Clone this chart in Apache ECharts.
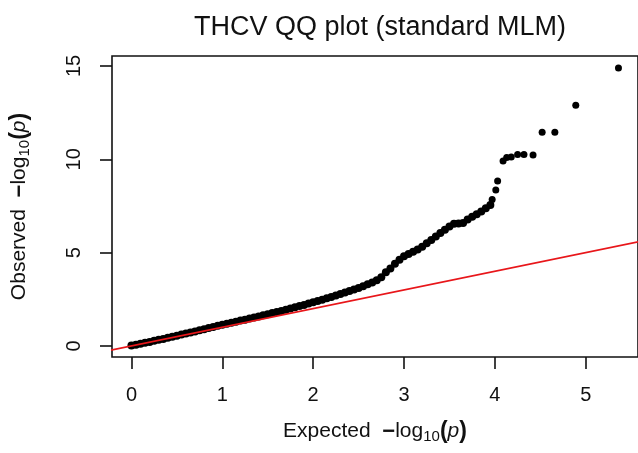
<!DOCTYPE html>
<html>
<head>
<meta charset="utf-8">
<script src="https://cdn.jsdelivr.net/npm/echarts@6/dist/echarts.min.js"></script>
<style>html,body{margin:0;padding:0;background:#fff;}#c{width:638px;height:453px;}</style>
</head>
<body>
<div id="c"></div>
<script>
// Expected -log10(p) values (dense part of the QQ curve)
var expectedMain = [0.00,0.05,0.10,0.15,0.20,0.25,0.30,0.35,0.40,0.45,0.50,0.55,0.60,0.65,0.70,0.75,0.80,0.85,0.90,0.95,
  1.00,1.05,1.10,1.15,1.20,1.25,1.30,1.35,1.40,1.45,1.50,1.55,1.60,1.65,1.70,1.75,1.80,1.85,1.90,1.95,
  2.00,2.05,2.10,2.15,2.20,2.25,2.30,2.35,2.40,2.45,2.50,2.55,2.60,2.65,2.70,2.75,2.80,2.85,2.90,2.95,
  3.00,3.05,3.10,3.15,3.20,3.25,3.30,3.35,3.40,3.45,3.50,3.55,3.60,3.65,3.70,3.75,3.80,3.85,3.90,3.95];
// Observed -log10(p) values
var observedMain = [0.02,0.07,0.12,0.17,0.22,0.28,0.33,0.38,0.44,0.49,0.55,0.61,0.67,0.72,0.78,0.84,0.90,0.96,1.02,1.08,
  1.14,1.19,1.25,1.30,1.36,1.41,1.47,1.53,1.58,1.64,1.70,1.76,1.82,1.88,1.94,2.01,2.07,2.14,2.20,2.27,
  2.34,2.41,2.48,2.55,2.62,2.70,2.78,2.86,2.94,3.02,3.11,3.20,3.30,3.40,3.52,3.68,3.95,4.15,4.40,4.62,
  4.80,4.92,5.05,5.17,5.32,5.50,5.68,5.87,6.05,6.22,6.40,6.55,6.56,6.58,6.78,6.92,7.05,7.20,7.38,7.55];
// Sparse tail
var expectedTail = [3.97,4.01,4.03,4.09,4.13,4.18,4.25,4.32,4.42,4.52,4.66,4.89,5.36];
var observedTail = [7.84,8.36,8.84,9.91,10.10,10.12,10.25,10.25,10.23,11.45,11.45,12.89,14.89];
// Reference line y = x
var refLineX = [-1, 6];
var xTicks = [0,1,2,3,4,5];
var yTicks = [0,5,10,15];
var titleText = 'THCV QQ plot (standard MLM)';

function zip(a, b){ var r = []; for (var k = 0; k < a.length; k++) r.push([a[k], b[k]]); return r; }
var ptsMain = zip(expectedMain, observedMain);
var ptsTail = zip(expectedTail, observedTail);
var ref = refLineX.map(function(v){ return [v, v]; });

var font = '"Liberation Sans", Arial, sans-serif';
var rich = {
  t: {fontSize: 21, fontFamily: font, color: '#111'},
  m: {fontSize: 22, fontFamily: font, color: '#111', fontWeight: 'bold'},
  s: {fontSize: 15, fontFamily: font, color: '#111', padding: [10,0,0,0]},
  b: {fontSize: 23, fontFamily: font, color: '#111', fontWeight: 'bold'},
  i: {fontSize: 21, fontFamily: font, color: '#111', fontStyle: 'italic'}
};
var nameTpl = '{m|−}{t|log}{s|10}{b|(}{i|p}{b|)}';

var chart = echarts.init(document.getElementById('c'), null, {renderer: 'canvas'});
chart.setOption({
  animation: false,
  backgroundColor: '#fff',
  title: {
    text: titleText, left: 375, top: 9, textAlign: 'center',
    textStyle: {fontFamily: font, fontSize: 27, fontWeight: 'normal', color: '#111'}
  },
  grid: {left: 112, right: -3, top: 56, bottom: 96, show: true, borderColor: '#111', borderWidth: 1.6, containLabel: false},
  xAxis: {
    type: 'value', min: -0.214, max: 5.575,
    splitLine: {show: false},
    axisLine: {show: false, onZero: false},
    axisTick: {show: true, length: 12, lineStyle: {color: '#111', width: 1.6}, customValues: xTicks},
    axisLabel: {customValues: xTicks, fontFamily: font, fontSize: 20, color: '#111', margin: 28},
    name: '{t|Expected  }' + nameTpl,
    nameLocation: 'middle', nameGap: 62,
    nameTextStyle: {rich: rich}
  },
  yAxis: {
    type: 'value', min: -0.59, max: 15.53,
    splitLine: {show: false},
    axisLine: {show: false, onZero: false},
    axisTick: {show: true, length: 12, lineStyle: {color: '#111', width: 1.6}, customValues: yTicks},
    axisLabel: {customValues: yTicks, rotate: 90, align: 'center', verticalAlign: 'bottom', fontFamily: font, fontSize: 20, color: '#111', margin: 28},
    name: '{t|Observed  }' + nameTpl,
    nameLocation: 'middle', nameGap: 80, nameRotate: 90,
    nameTextStyle: {rich: rich}
  },
  series: [
    {
      type: 'scatter', data: ptsMain, symbol: 'circle', symbolSize: 8,
      itemStyle: {color: '#000', opacity: 1}, z: 2, silent: true
    },
    {
      type: 'scatter', data: ptsTail, symbol: 'circle', symbolSize: 7,
      itemStyle: {color: '#000', opacity: 1}, z: 2, silent: true
    },
    {
      type: 'line', data: ref, symbol: 'none', clip: true,
      lineStyle: {color: '#e8161a', width: 1.8}, z: 3, silent: true
    }
  ]
});
</script>
</body>
</html>
